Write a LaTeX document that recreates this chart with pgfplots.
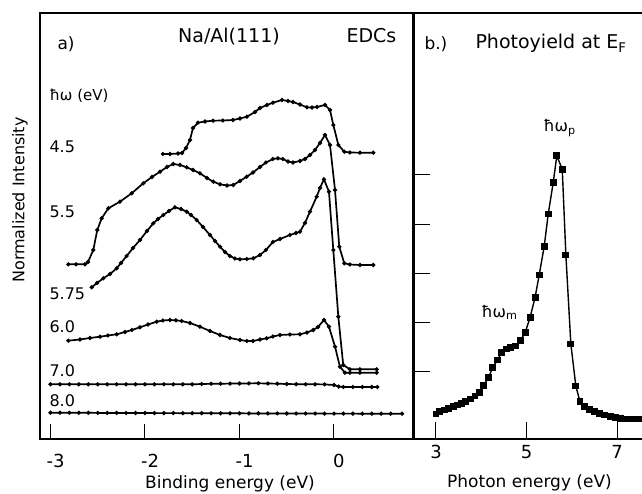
\documentclass[border=0pt]{standalone}
\usepackage{fontspec}
\setmainfont{DejaVu Sans}
\usepackage{pgfplots}
\pgfplotsset{compat=1.18}
\newcommand\fs[1]{\fontsize{#1}{#1}\selectfont}

\begin{document}
\begin{tikzpicture}
% a) EDCs, y in arbitrary offset units
\begin{axis}[
  at={(40pt,-439pt)}, anchor=south west,
  scale only axis, width=374pt, height=426pt,
  xmin=-3.111, xmax=0.847, ymin=0, ymax=426,
  xtick={-3,-2,-1,0}, xticklabels={-3,-2,-1,0},
  ytick=\empty,
  xtick pos=left, tick align=inside,
  major tick length=15pt,
  every tick/.style={black, line width=1pt},
  axis line style={line width=1.7pt},
  xticklabel style={font=\fs{18}, anchor=base, yshift=-28pt, xshift=5pt},
  every axis plot post/.append style={black, solid, line width=1.7pt, mark=*, mark size=1.1pt, mark options={black, solid}},
]
% 4.5
\addplot coordinates {(-1.810,285) (-1.735,285) (-1.651,285.5) (-1.608,286) (-1.566,291) (-1.524,299)
 (-1.492,311) (-1.439,316.3) (-1.365,317.5) (-1.280,318.3) (-1.175,318.5) (-1.069,319) (-0.995,320.5)
 (-0.921,322.3) (-0.836,327) (-0.783,331) (-0.709,334) (-0.646,336.3) (-0.550,339) (-0.487,338)
 (-0.434,337) (-0.360,334.5) (-0.286,331.7) (-0.233,331.5) (-0.180,332) (-0.095,334) (-0.042,329)
 (-0.007,314) (0.046,294) (0.109,287.3) (0.169,286.5) (0.275,286.3) (0.416,286.3)};
% 5.5
\addplot coordinates {(-2.812,174.7) (-2.730,174.7) (-2.635,174.7) (-2.603,177) (-2.547,189) (-2.505,209)
 (-2.458,220.7) (-2.388,230.7) (-2.265,237.3) (-2.141,245.7) (-2.018,255.7) (-1.926,262) (-1.841,267.3)
 (-1.767,272) (-1.701,275) (-1.630,274) (-1.559,271.7) (-1.492,269) (-1.418,265.7) (-1.344,261)
 (-1.277,257.3) (-1.206,254.7) (-1.132,253.5) (-1.066,254) (-0.995,258) (-0.924,262.3) (-0.857,266.5)
 (-0.783,272) (-0.720,276.5) (-0.646,280) (-0.593,280.7) (-0.540,280) (-0.487,277.5) (-0.434,276.5)
 (-0.360,278) (-0.307,280) (-0.254,284) (-0.201,289) (-0.148,296) (-0.095,304) (-0.042,294)
 (0.011,249) (0.056,192.3) (0.109,175.7) (0.169,174.5) (0.275,174) (0.416,174)};
% 5.75
\addplot coordinates {(-2.564,151.7) (-2.508,156) (-2.441,160.7) (-2.370,165) (-2.299,170.7) (-2.254,176)
 (-2.194,183) (-2.127,191) (-2.053,199) (-1.979,208) (-1.912,215.7) (-1.862,220) (-1.806,224)
 (-1.746,228) (-1.683,231.7) (-1.619,230) (-1.559,227.3) (-1.513,224) (-1.453,219) (-1.386,212)
 (-1.312,204) (-1.259,198) (-1.206,192.3) (-1.153,187) (-1.101,183) (-1.048,180.5) (-0.995,179.7)
 (-0.921,180) (-0.854,180.7) (-0.783,184) (-0.720,189) (-0.646,197) (-0.571,200) (-0.466,204)
 (-0.402,206) (-0.360,207.3) (-0.307,216) (-0.254,227.3) (-0.183,242.3) (-0.148,251) (-0.106,259.7)
 (-0.053,247.3) (-0.007,189) (0.046,122.3) (0.098,74) (0.169,69.7) (0.275,69.7) (0.452,69.7)};
% 6.0
\addplot coordinates {(-2.812,98.3) (-2.688,99.5) (-2.582,101) (-2.476,102.3) (-2.392,103.5) (-2.299,104.7)
 (-2.212,107) (-2.138,109) (-2.053,111.7) (-1.968,114.5) (-1.876,117.3) (-1.810,118.5) (-1.735,119)
 (-1.672,118.7) (-1.612,118) (-1.524,116) (-1.418,112.3) (-1.312,108) (-1.206,104) (-1.101,101)
 (-0.995,99) (-0.921,98) (-0.857,98) (-0.783,99.5) (-0.712,100.7) (-0.646,102.5) (-0.571,104)
 (-0.466,104.5) (-0.360,104.7) (-0.286,106.5) (-0.219,109) (-0.169,112) (-0.106,119) (-0.053,112.3)
 (0.011,92.3) (0.063,72.3) (0.116,66.3) (0.169,66.3) (0.275,66.3) (0.452,66.3)};
% 7.0
\addplot coordinates {(-3.0,54.7) (-2.9,54.7) (-2.8,54.7) (-2.7,54.7) (-2.6,54.7) (-2.5,54.7) (-2.4,54.7)
 (-2.3,54.7) (-2.2,54.7) (-2.1,54.7) (-2.0,54.7) (-1.9,54.7) (-1.8,54.7) (-1.7,54.7) (-1.6,54.7)
 (-1.5,54.7) (-1.4,55) (-1.3,55.2) (-1.2,55.3) (-1.1,55.4) (-1.0,55.5) (-0.9,55.6) (-0.8,55.7)
 (-0.7,55.5) (-0.6,55.3) (-0.5,55) (-0.4,54.8) (-0.3,54.7) (-0.2,54.7) (-0.1,54.6) (0.0,54)
 (0.05,52.5) (0.1,52) (0.2,52) (0.3,52) (0.4,52) (0.46,52)};
% 8.0
\addplot coordinates {(-3.0,26.3) (-2.9,26.3) (-2.8,26.2) (-2.7,26.2) (-2.6,26.2) (-2.5,26.1) (-2.4,26.1)
 (-2.3,26.1) (-2.2,26) (-2.1,26) (-2.0,26) (-1.9,25.9) (-1.8,25.9) (-1.7,25.9) (-1.6,25.8) (-1.5,25.8)
 (-1.4,25.8) (-1.3,25.7) (-1.2,25.7) (-1.1,25.7) (-1.0,25.7) (-0.9,25.6) (-0.8,25.6) (-0.7,25.6)
 (-0.6,25.6) (-0.5,25.5) (-0.4,25.5) (-0.3,25.5) (-0.2,25.5) (-0.1,25.4) (0.0,25.4) (0.1,25.4)
 (0.2,25.4) (0.3,25.3) (0.4,25.3) (0.5,25.3) (0.6,25.3) (0.72,25.3)};
\end{axis}

% b) photoyield at E_F
\begin{axis}[
  at={(413pt,-439pt)}, anchor=south west,
  scale only axis, width=247pt, height=426pt,
  xmin=2.492, xmax=7.95, ymin=0, ymax=426,
  xtick={3,5,7}, xticklabels={3,5,7},
  ytick={67.3,116.3,165.3,214,264}, yticklabels={},
  tick pos=left, tick align=inside,
  major tick length=17pt,
  every tick/.style={black, line width=1pt},
  axis line style={line width=1.9pt},
  xticklabel style={font=\fs{18}, anchor=base, yshift=-19pt},
]
\addplot[black, line width=1.4pt, mark=square*, mark size=2.7pt] coordinates {
 (3.00,25) (3.07,27.3) (3.18,29) (3.27,30.7) (3.38,32.3) (3.47,34) (3.57,35.3) (3.66,37.3) (3.77,40)
 (3.86,43) (3.96,46.3) (4.05,53.3) (4.16,61.3) (4.25,71.3) (4.36,79) (4.45,86.7) (4.55,90) (4.64,91.7)
 (4.75,93) (4.86,98.3) (4.97,106.3) (5.08,121.7) (5.19,141.7) (5.28,164) (5.39,192.3) (5.48,225)
 (5.59,256.3) (5.67,283.3) (5.79,269.7) (5.87,184) (5.98,95) (6.09,53) (6.18,37.7) (6.29,32.3)
 (6.40,29.7) (6.51,27.7) (6.62,25.7) (6.73,24) (6.85,22.3) (6.96,21.3) (7.07,20.7) (7.18,20)
 (7.29,20) (7.40,20) (7.51,20) (7.62,20)};
\end{axis}

% labels and annotations
\node[rotate=90, font=\fs{16}] at (20pt,-200pt) {Normalized Intensity};
\node[anchor=base, font=\fs{17}] at (230pt,-488pt) {Binding energy (eV)};
\node[anchor=base, font=\fs{17}] at (529.5pt,-487pt) {Photon energy (eV)};
\node[anchor=base west, font=\fs{17}] at (54pt,-50pt) {a)};
\node[anchor=base, font=\fs{19}] at (229pt,-42.7pt) {Na/Al(111)};
\node[anchor=base west, font=\fs{19}] at (343pt,-42.7pt) {EDCs};
\node[anchor=base west, font=\fs{15}] at (46pt,-101pt) {ħω (eV)};
\node[anchor=base west, font=\fs{16}] at (46pt,-152.7pt) {4.5};
\node[anchor=base west, font=\fs{16}] at (46pt,-218pt) {5.5};
\node[anchor=base west, font=\fs{16}] at (46pt,-299pt) {5.75};
\node[anchor=base west, font=\fs{16}] at (46pt,-332.3pt) {6.0};
\node[anchor=base west, font=\fs{16}] at (46pt,-376.7pt) {7.0};
\node[anchor=base west, font=\fs{16}] at (46pt,-406.7pt) {8.0};
\node[anchor=base west, font=\fs{17}] at (421pt,-50pt) {b.)};
\node[anchor=base west, font=\fs{19}] at (472pt,-48.3pt) {Photoyield at E\textsubscript{F}};
\node[anchor=base west, font=\fs{16}] at (540pt,-131.7pt) {ħω\textsubscript{p}};
\node[anchor=base west, font=\fs{16}] at (478pt,-317.3pt) {ħω\textsubscript{m}};

\pgfresetboundingbox
\useasboundingbox (0pt,0pt) rectangle (642pt,-494pt);
\end{tikzpicture}
\end{document}
